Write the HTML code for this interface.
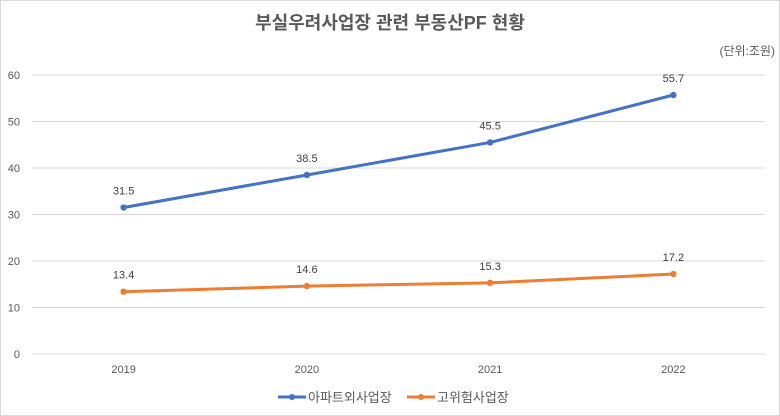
<!DOCTYPE html>
<html><head><meta charset="utf-8"><style>
body{margin:0;background:#fff}
svg{display:block}
text{font-family:"Liberation Sans","Noto Sans CJK KR",sans-serif}
</style></head><body>
<svg width="780" height="416">
<rect x="0.5" y="0.5" width="779" height="415" fill="#fff" stroke="#d9d9d9"/>
<text x="390" y="29" text-anchor="middle" font-size="18" fill="#595959" font-weight="bold">부실우려사업장 관련 부동산PF 현황</text>
<text x="775" y="55" text-anchor="end" font-size="12" fill="#595959">(단위:조원)</text>
<g id="grid"></g><g id="yt"></g><g id="xt"></g><g id="series"></g>
<g>
<line x1="278" y1="397" x2="306" y2="397" stroke="#4472c4" stroke-width="3"/><circle cx="292" cy="397" r="3" fill="#4472c4"/>
<text x="308" y="402" font-size="13" fill="#595959">아파트외사업장</text>
<line x1="407" y1="397" x2="435" y2="397" stroke="#ed7d31" stroke-width="3"/><circle cx="421" cy="397" r="3" fill="#ed7d31"/>
<text x="437" y="402" font-size="13" fill="#595959">고위험사업장</text>
</g>
</svg>
<script>
const categories=["2019","2020","2021","2022"];
const seriesApt=[31.5,38.5,45.5,55.7];
const seriesRisk=[13.4,14.6,15.3,17.2];
const yTicks=[0,10,20,30,40,50,60];
const NS="http://www.w3.org/2000/svg";
const L=32,R=765,T=75,B=354,ymax=60;
const xs=i=>L+(R-L)/categories.length*(i+0.5);
const ys=v=>B-(B-T)*v/ymax;
function mk(t,a,p,txt){const e=document.createElementNS(NS,t);for(const k in a)e.setAttribute(k,a[k]);if(txt!==undefined)e.textContent=txt;document.getElementById(p).appendChild(e);return e;}
yTicks.forEach(v=>{
 const g=mk('line',{x1:L,x2:R,y1:ys(v),y2:ys(v),stroke:'#d9d9d9','stroke-width':1},'grid');
 
 
 const t=mk('text',{x:20,y:ys(v)+4,'text-anchor':'end','font-size':11,fill:'#595959'},'yt',String(v));
 
 
});
categories.forEach((c,i)=>{
 const t=mk('text',{x:xs(i),y:373,'text-anchor':'middle','font-size':11,fill:'#595959'},'xt',c);
 
 
});
function drawSeries(vals,color,name){
 const p=mk('polyline',{points:vals.map((v,i)=>xs(i)+','+ys(v)).join(' '),fill:'none',stroke:color,'stroke-width':3,'stroke-linejoin':'round'},'series');
 
 
 vals.forEach((v,i)=>{
  const c=mk('circle',{cx:xs(i),cy:ys(v),r:3.2,fill:color},'series');
  
  
  const t=mk('text',{x:xs(i),y:ys(v)-13,'text-anchor':'middle','font-size':11,fill:'#404040'},'series',v.toFixed(1));
  
  
 });
}
drawSeries(seriesApt,'#4472c4','apt-series');
drawSeries(seriesRisk,'#ed7d31','risk-series');
</script>
</body></html>
